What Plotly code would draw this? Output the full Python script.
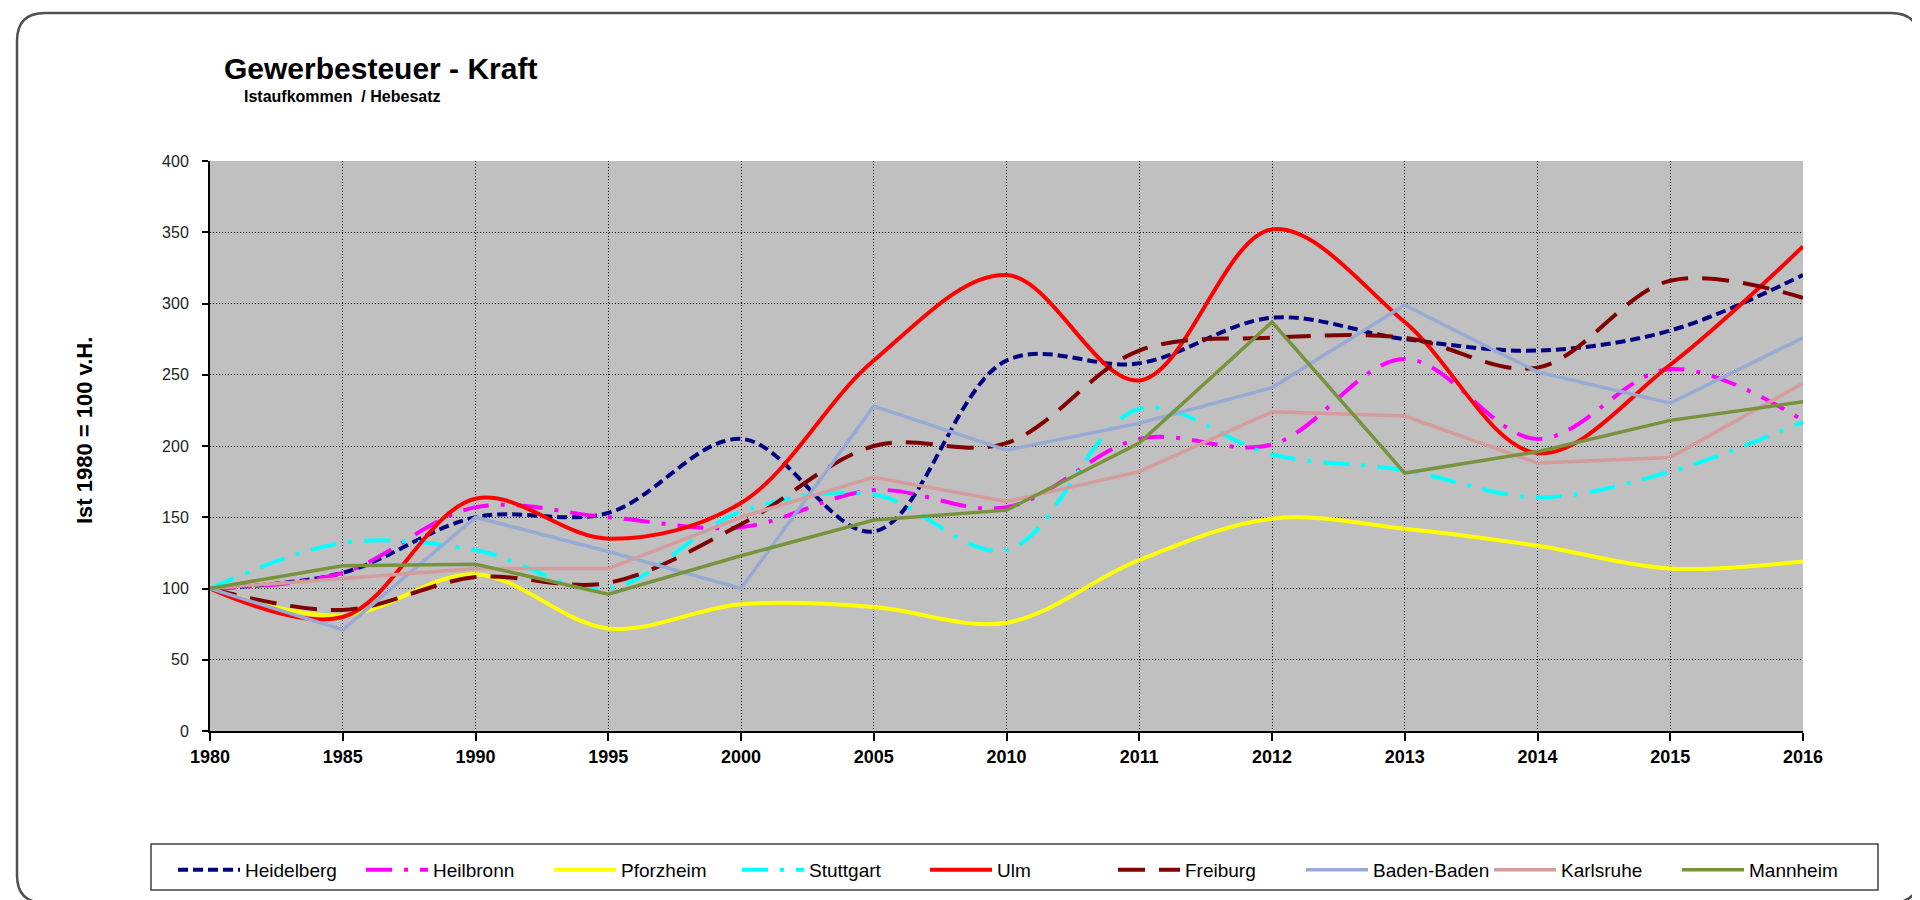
import plotly.graph_objects as go

# Kategorien (x-Achse)
years = ['1980', '1985', '1990', '1995', '2000', '2005', '2010',
         '2011', '2012', '2013', '2014', '2015', '2016']

# Index Ist 1980 = 100
heidelberg = [100, 111, 150, 153, 205, 140, 260, 258, 290, 275, 267, 281, 320]
heilbronn = [100, 111, 157, 150, 143, 169, 157, 205, 201, 261, 205, 254, 218]
pforzheim = [100, 81, 110, 72, 89, 87, 76, 120, 149, 142, 130, 114, 119]
stuttgart = [100, 132, 127, 100, 154, 166, 127, 226, 194, 183, 164, 182, 217]
ulm = [100, 80, 163, 135, 160, 260, 320, 246, 352, 287, 195, 257, 340]
freiburg = [100, 85, 108, 104, 145, 200, 202, 267, 276, 276, 255, 316, 304]
baden_baden = [100, 71, 150, 126, 100, 228, 197, 216, 241, 299, 252, 230, 276]
karlsruhe = [100, 107, 114, 114, 150, 178, 161, 182, 224, 221, 188, 192, 244]
mannheim = [100, 116, 117, 96, 123, 148, 155, 202, 287, 181, 196, 218, 231]

y_ticks = [0, 50, 100, 150, 200, 250, 300, 350, 400]

# page / plot area geometry (pixels)
W, H = 1920, 900
L, R, T, B = 202, 125, 153, 177
PW, PH = W - L - R, H - T - B


def px(x):
    return (x - L) / PW


def py(y):
    return (H - B - y) / PH


series = [
    ('Heidelberg', heidelberg, '#000080', '10px,5px', 'spline', 4),
    ('Heilbronn', heilbronn, '#FF00FF', '26px,12px,4px,12px', 'spline', 4),
    ('Pforzheim', pforzheim, '#FFFF00', 'solid', 'spline', 4),
    ('Stuttgart', stuttgart, '#00FFFF', '26px,12px,4px,12px', 'spline', 4),
    ('Ulm', ulm, '#FF0000', 'solid', 'spline', 4),
    ('Freiburg', freiburg, '#800000', '27px,14px', 'spline', 4),
    ('Baden-Baden', baden_baden, '#97AAD4', 'solid', 'linear', 3.5),
    ('Karlsruhe', karlsruhe, '#D49C9C', 'solid', 'linear', 3.5),
    ('Mannheim', mannheim, '#77933C', 'solid', 'linear', 3.5),
]

fig = go.Figure()
for name, vals, color, dash, shape, width in series:
    fig.add_trace(go.Scatter(
        x=years, y=vals, name=name, mode='lines',
        line=dict(color=color, dash=dash, shape=shape, width=width, smoothing=1),
    ))

# outer rounded frame
x0, x1, y0, y1, r = 9, 1911, 5, 895, 28
frame = (f"M {px(x0 + r)},{py(y0)} L {px(x1 - r)},{py(y0)} "
         f"Q {px(x1)},{py(y0)} {px(x1)},{py(y0 + r)} L {px(x1)},{py(y1 - r)} "
         f"Q {px(x1)},{py(y1)} {px(x1 - r)},{py(y1)} L {px(x0 + r)},{py(y1)} "
         f"Q {px(x0)},{py(y1)} {px(x0)},{py(y1 - r)} L {px(x0)},{py(y0 + r)} "
         f"Q {px(x0)},{py(y0)} {px(x0 + r)},{py(y0)} Z")

fig.update_layout(
    width=W, height=H,
    margin=dict(l=L, r=R, t=T, b=B),
    paper_bgcolor='white',
    plot_bgcolor='#C0C0C0',
    font=dict(family='Arial, Liberation Sans, sans-serif', color='black'),
    showlegend=True,
    title=dict(text='<b>Gewerbesteuer - Kraft</b>', x=216 / W, xanchor='left',
               xref='container', y=1 - 60 / H, yanchor='middle', yref='container',
               font=dict(size=30, color='black')),
    xaxis=dict(
        type='category', range=[0, len(years) - 1],
        showgrid=True, gridcolor='black', griddash='1px,2px', gridwidth=1,
        showline=True, linecolor='black', linewidth=2,
        ticks='outside', ticklen=8, tickwidth=1.5, tickcolor='black',
        tickfont=dict(size=18, color='black', weight='bold'),
        zeroline=False,
    ),
    yaxis=dict(
        range=[0, 400], tickvals=y_ticks,
        showgrid=True, gridcolor='black', griddash='1px,2px', gridwidth=1,
        showline=True, linecolor='black', linewidth=2,
        ticks='outside', ticklen=6, tickwidth=1.5, tickcolor='black',
        tickfont=dict(size=16, color='#222222'),
        ticklabelstandoff=10,
        zeroline=False,
    ),
    legend=dict(
        orientation='h', x=px(165), xanchor='left', y=py(862), yanchor='middle',
        bgcolor='rgba(0,0,0,0)', font=dict(size=19, color='black'),
        entrywidth=111, itemwidth=62, traceorder='normal',
    ),
    annotations=[
        dict(text='<b>Istaufkommen  / Hebesatz</b>', x=px(234), y=py(88),
             xref='paper', yref='paper', xanchor='left', yanchor='middle',
             showarrow=False, font=dict(size=16, color='black')),
        dict(text='<b>Ist 1980 = 100 v.H.</b>', x=px(76), y=py(422),
             xref='paper', yref='paper', xanchor='center', yanchor='middle',
             textangle=-90, showarrow=False, font=dict(size=22, color='black')),
    ],
    shapes=[
        dict(type='path', path=frame, xref='paper', yref='paper',
             line=dict(color='#505050', width=2.5)),
        dict(type='rect', x0=px(143), x1=px(1870), y0=py(882), y1=py(836),
             xref='paper', yref='paper', line=dict(color='#404040', width=1.5)),
    ],
)

fig.write_html("out.html")
